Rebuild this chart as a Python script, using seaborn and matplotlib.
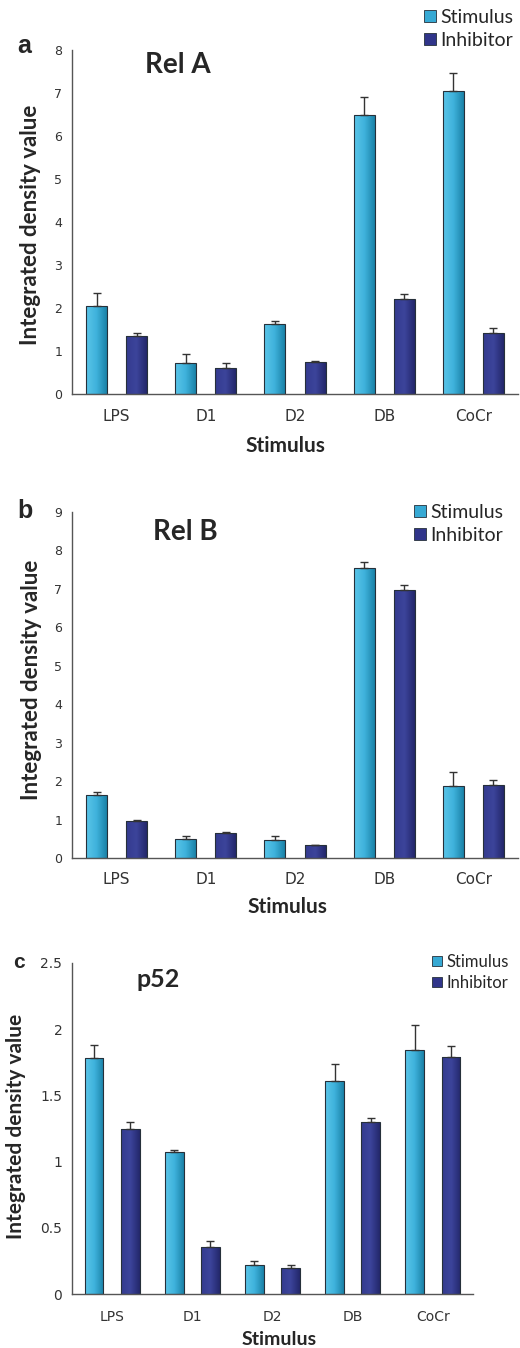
import numpy as np
import pandas as pd
import matplotlib
matplotlib.use("Agg")
import matplotlib.pyplot as plt
from matplotlib.patches import Patch
from matplotlib.colors import LinearSegmentedColormap
import seaborn as sns

# Values (mean bar height and upper error)
categories = ["LPS", "D1", "D2", "DB", "CoCr"]
groups = ["Stimulus", "Inhibitor"]

rela_stim = [2.04, 0.71, 1.63, 6.50, 7.04]
rela_stim_err = [0.30, 0.21, 0.07, 0.41, 0.42]
rela_inh = [1.36, 0.61, 0.75, 2.21, 1.43]
rela_inh_err = [0.07, 0.10, 0.02, 0.11, 0.10]

relb_stim = [1.64, 0.50, 0.46, 7.54, 1.87]
relb_stim_err = [0.08, 0.08, 0.12, 0.17, 0.38]
relb_inh = [0.96, 0.64, 0.33, 6.97, 1.91]
relb_inh_err = [0.03, 0.03, 0.00, 0.12, 0.12]

p52_stim = [1.78, 1.07, 0.22, 1.61, 1.84]
p52_stim_err = [0.10, 0.02, 0.03, 0.13, 0.19]
p52_inh = [1.25, 0.36, 0.20, 1.30, 1.79]
p52_inh_err = [0.05, 0.04, 0.02, 0.03, 0.08]

stim_color = "#36a9d4"
inh_color = "#30358a"
stim_cmap = LinearSegmentedColormap.from_list("stim", ["#5ac5e8", "#3fb2dc", "#1a82a8"])
inh_cmap = LinearSegmentedColormap.from_list("inh", ["#343b8f", "#3c449b", "#23276b"])
axis_grey = "#555555"

sns.set_style("white")
plt.rcParams["font.family"] = ["Lato", "DejaVu Sans"]


def draw_panel(ax, stim, stim_err, inh, inh_err, ymax, yticks, ytick_labels,
               ylab_fs, xlab_fs, ytick_fs, xtick_fs, xtick_pad):
    df = pd.DataFrame({
        "Stimulus": categories * 2,
        "group": [groups[0]] * len(categories) + [groups[1]] * len(categories),
        "value": stim + inh,
    })
    sns.barplot(data=df, x="Stimulus", y="value", hue="group", order=categories,
                hue_order=groups, palette=[stim_color, inh_color], width=0.9, gap=0.48,
                edgecolor="#26303a", linewidth=0.8, errorbar=None, legend=False, ax=ax)

    # gradient fill like the original spreadsheet bars
    grad = np.linspace(0, 1, 64).reshape(1, -1)
    bars = list(ax.patches)
    n = len(categories)
    for i, bar in enumerate(bars):
        x0, w, h = bar.get_x(), bar.get_width(), bar.get_height()
        im = ax.imshow(grad, cmap=stim_cmap if i < n else inh_cmap, extent=[x0, x0 + w, 0, h],
                       aspect="auto", origin="lower", interpolation="bilinear",
                       zorder=bar.get_zorder() - 0.05)
        im.set_clip_path(bar)
        bar.set_facecolor("none")

    xs = [b.get_x() + b.get_width() / 2 for b in bars]
    tops = [b.get_height() for b in bars]
    errs = stim_err + inh_err
    ax.errorbar(xs, tops, yerr=[np.zeros(len(errs)), errs], fmt="none", ecolor="#333333",
                elinewidth=1, capsize=3, capthick=1, zorder=3)

    ax.set_xlim(-0.5, len(categories) - 0.5)
    ax.set_ylim(0, ymax)
    ax.set_yticks(yticks)
    ax.set_yticklabels(ytick_labels)
    ax.set_xticks([i - 0.5 for i in range(len(categories) + 1)])
    ax.set_xticklabels([])
    ax.set_xticks(range(len(categories)), minor=True)
    ax.set_xticklabels(categories, minor=True)
    ax.tick_params(axis="x", which="major", direction="out", length=4, width=1, color=axis_grey)
    ax.tick_params(axis="x", which="minor", length=0, pad=xtick_pad, labelsize=xtick_fs,
                   labelcolor="#333333")
    ax.tick_params(axis="y", direction="out", length=4, width=1, color=axis_grey, pad=3,
                   labelsize=ytick_fs, labelcolor="#333333")
    for lab in ax.get_yticklabels() + ax.get_xticklabels(minor=True):
        lab.set_family(["DejaVu Sans"])
    sns.despine(ax=ax)
    for side in ["left", "bottom"]:
        ax.spines[side].set_color(axis_grey)
        ax.spines[side].set_linewidth(1)
    ax.set_ylabel("Integrated density value", fontsize=ylab_fs, fontweight="bold", va="center")
    ax.set_xlabel("Stimulus", fontsize=xlab_fs, fontweight="bold", va="center")


fig = plt.figure(figsize=(5.2, 13.48), dpi=100)
W, H = 520, 1348


def add_axes(left, top, right, bottom):
    return fig.add_axes([left / W, 1 - bottom / H, (right - left) / W, (bottom - top) / H])


ax_a = add_axes(72, 50, 518, 394)
ax_b = add_axes(72, 512, 518, 858)
ax_c = add_axes(72, 962.7, 473, 1294.3)

draw_panel(ax_a, rela_stim, rela_stim_err, rela_inh, rela_inh_err, 8,
           list(range(9)), [str(v) for v in range(9)], 16, 15, 9, 11, 11)
draw_panel(ax_b, relb_stim, relb_stim_err, relb_inh, relb_inh_err, 9,
           list(range(10)), [str(v) for v in range(10)], 16, 15, 9, 11, 10)
c_ticks = [0, 0.5, 1, 1.5, 2, 2.5]
draw_panel(ax_c, p52_stim, p52_stim_err, p52_inh, p52_inh_err, 2.5,
           c_ticks, ["0", "0.5", "1", "1.5", "2", "2.5"], 15, 14, 10, 10, 11)

ax_a.yaxis.set_label_coords(-0.092, 0.491)
ax_a.xaxis.set_label_coords(0.478, -0.151)
ax_b.yaxis.set_label_coords(-0.09, 0.515)
ax_b.xaxis.set_label_coords(0.482, -0.142)
ax_c.yaxis.set_label_coords(-0.14, 0.505)
ax_c.xaxis.set_label_coords(0.516, -0.136)

# panel letters and protein titles
letter_font = ["Liberation Sans", "DejaVu Sans"]
fig.text(17 / W, 1 - 53 / H, "a", fontsize=18, fontweight="bold", family=letter_font)
fig.text(17 / W, 1 - 518 / H, "b", fontsize=18, fontweight="bold", family=letter_font)
fig.text(13 / W, 1 - 968 / H, "c", fontsize=15, fontweight="bold", family=letter_font)
fig.text(145 / W, 1 - 73 / H, "Rel A", fontsize=20, fontweight="bold")
fig.text(153 / W, 1 - 540 / H, "Rel B", fontsize=20, fontweight="bold")
fig.text(137 / W, 1 - 987 / H, "p52", fontsize=18, fontweight="bold")

handles = [Patch(facecolor=stim_color, edgecolor="#26303a", linewidth=0.6),
           Patch(facecolor=inh_color, edgecolor="#26303a", linewidth=0.6)]
legend_kw = dict(loc="upper left", frameon=False, borderpad=0, borderaxespad=0,
                 handlelength=0.6, handleheight=0.6, handletextpad=0.25, labelspacing=0.3)
fig.legend(handles, groups, bbox_to_anchor=(424 / W, 1 - 9 / H), fontsize=14, **legend_kw)
fig.legend(handles, groups, bbox_to_anchor=(414 / W, 1 - 504 / H), fontsize=14, **legend_kw)
fig.legend(handles, groups, bbox_to_anchor=(432 / W, 1 - 954 / H), fontsize=12, **legend_kw)

fig.savefig("out.png", dpi=100)
